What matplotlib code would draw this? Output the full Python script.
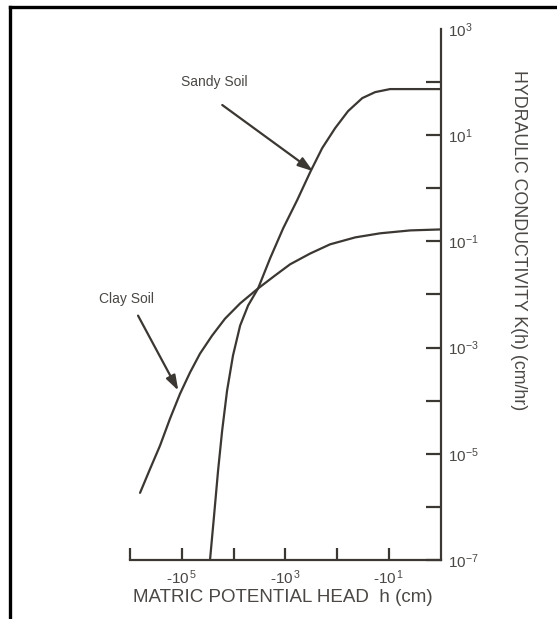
import numpy as np
import matplotlib
matplotlib.use("Agg")
import matplotlib.pyplot as plt
from matplotlib.lines import Line2D
from matplotlib.ticker import FixedLocator, FuncFormatter

plt.rcParams["font.family"] = ["Liberation Sans", "DejaVu Sans"]
plt.rcParams["mathtext.fontset"] = "custom"
plt.rcParams["mathtext.rm"] = "Liberation Sans"
plt.rcParams["mathtext.default"] = "rm"
plt.rcParams["axes.unicode_minus"] = False

INK = "#3b3733"
TXT = "#4a4744"

# matric potential head h (cm) and conductivity K(h) (cm/hr)
sandy_h = [-28600, -23900, -20000, -16700, -13400, -10300, -7500, -5270,
           -3380, -1980, -1110, -597, -335, -196, -110, -62, -33, -18.6,
           -9.6, -1]
sandy_k = [1e-7, 6.8e-7, 4.8e-6, 2.7e-5, 1.55e-4, 7.1e-4, 2.6e-3, 6.2e-3,
           1.3e-2, 4.8e-2, 0.176, 0.594, 2.0, 5.7, 13.6, 28.4, 49.9, 64.7,
           73.8, 73.8]

clay_h = [-6.4e5, -4.1e5, -2.64e5, -1.69e5, -1.08e5, -6.95e4, -4.46e4,
          -2.61e4, -1.47e4, -7500, -3380, -1590, -815, -335, -138, -45,
          -14.9, -3.9, -1]
clay_k = [1.84e-6, 5.2e-6, 1.42e-5, 4.6e-5, 1.36e-4, 3.4e-4, 7.7e-4,
          1.68e-3, 3.5e-3, 6.8e-3, 1.3e-2, 2.28e-2, 3.7e-2, 5.9e-2, 8.8e-2,
          0.119, 0.142, 0.161, 0.168]

x_decades = [6, 5, 4, 3, 2, 1]
x_labeled = [5, 3, 1]
y_decades = list(range(-7, 4))
y_labeled = [-7, -5, -3, -1, 1, 3]

fig = plt.figure(figsize=(5.57, 6.19), dpi=100)
ax = fig.add_axes([0.2334, 0.0953, 0.5583, 0.8579])

# plot against |h| on a reversed log axis so -1 sits at the right
ax.plot(-np.asarray(sandy_h), sandy_k, color=INK, lw=1.6,
        solid_capstyle="round", solid_joinstyle="round")
ax.plot(-np.asarray(clay_h), clay_k, color=INK, lw=1.6,
        solid_capstyle="round", solid_joinstyle="round")

ax.set_xscale("log")
ax.set_yscale("log")
ax.set_xlim(1e6, 1)
ax.set_ylim(1e-7, 1e3)

for side in ("top", "left"):
    ax.spines[side].set_visible(False)
for side in ("right", "bottom"):
    ax.spines[side].set_color(INK)
    ax.spines[side].set_linewidth(1.6)


def xfmt(v, pos):
    d = round(np.log10(v))
    return r"-$10^{\,%d}$" % d if d in x_labeled else ""


def yfmt(v, pos):
    d = round(np.log10(v))
    return r"$10^{%d}$" % d if d in y_labeled else ""


ax.xaxis.set_major_locator(FixedLocator([10.0 ** d for d in x_decades]))
ax.xaxis.set_minor_locator(FixedLocator([]))
ax.xaxis.set_major_formatter(FuncFormatter(xfmt))
ax.tick_params(axis="x", direction="in", length=9, width=1.6, color=INK,
               labelsize=11, labelcolor=TXT, pad=6)

ax.yaxis.tick_right()
ax.yaxis.set_major_locator(FixedLocator([10.0 ** d for d in y_decades]))
ax.yaxis.set_minor_locator(FixedLocator([]))
ax.yaxis.set_major_formatter(FuncFormatter(yfmt))
ax.tick_params(axis="y", direction="in", length=11, width=1.6, color=INK,
               labelsize=11, labelcolor=TXT, pad=5)
ax.yaxis.get_major_ticks()[-1].tick2line.set_visible(False)

arrow = dict(arrowstyle="-|>,head_length=0.9,head_width=0.3", color=INK, lw=1.6,
             shrinkA=0, shrinkB=0)
ax.annotate("", xy=(295, 2.1), xytext=(16600, 37), arrowprops=arrow)
ax.text(24000, 100, "Sandy Soil", ha="center", va="center", fontsize=10, color=TXT)
ax.annotate("", xy=(1.17e5, 1.55e-4), xytext=(7.0e5, 4e-3), arrowprops=arrow,
            annotation_clip=False)
ax.text(1.15e6, 8.3e-3, "Clay Soil", ha="center", va="center", fontsize=10,
        color=TXT, clip_on=False)

fig.text(0.508, 0.034, "MATRIC POTENTIAL HEAD  h (cm)", ha="center", va="center",
         fontsize=13.5, color=TXT)
fig.text(0.930, 0.612, "HYDRAULIC CONDUCTIVITY K(h) (cm/hr)", ha="center",
         va="center", rotation=-90, fontsize=12.8, color=TXT)

# frame lines along the top and left edge
fig.add_artist(Line2D([10 / 557, 1], [1 - 7 / 619] * 2, color="black", lw=2.4))
fig.add_artist(Line2D([10 / 557] * 2, [0, 1 - 7 / 619], color="black", lw=2.4))

fig.savefig("out.png", dpi=100, facecolor="white")
